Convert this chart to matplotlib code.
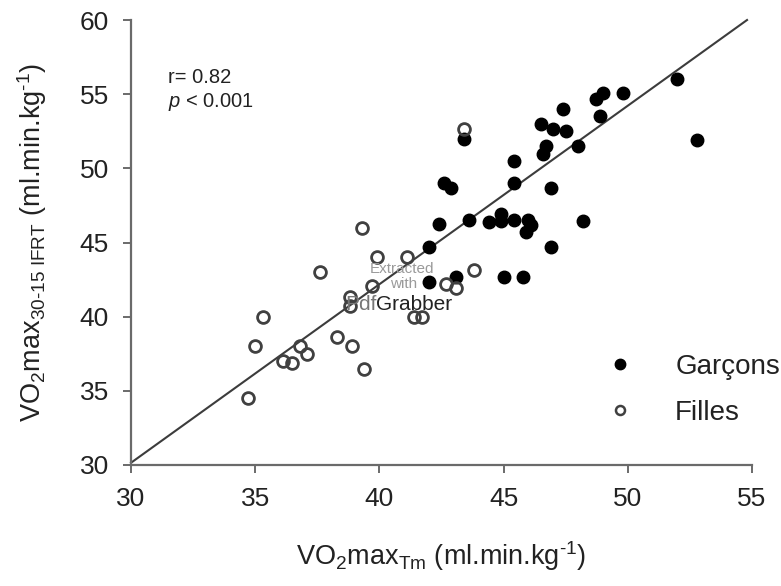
import matplotlib
matplotlib.use("Agg")
import matplotlib.pyplot as plt
from matplotlib.lines import Line2D

plt.rcParams['font.family'] = ['Liberation Sans', 'DejaVu Sans']
plt.rcParams['mathtext.fontset'] = 'custom'
plt.rcParams['mathtext.rm'] = 'Liberation Sans'
plt.rcParams['mathtext.it'] = 'Liberation Sans:italic'
plt.rcParams['mathtext.bf'] = 'Liberation Sans:bold'

# ---- data ----
garcons_x = [52.0, 52.8, 49.8, 49.0, 48.7, 48.9, 47.4, 46.5, 47.0, 47.5,
             46.7, 46.6, 48.0, 45.4, 43.4, 42.6, 42.9, 45.4, 46.9, 42.4,
             43.6, 44.4, 44.9, 44.9, 45.4, 46.0, 46.1, 45.9, 48.2, 42.0,
             46.9, 42.0, 43.1, 45.0, 45.8]
garcons_y = [56.0, 51.9, 55.1, 55.1, 54.65, 53.55, 54.0, 53.0, 52.65, 52.55,
             51.5, 51.0, 51.5, 50.5, 52.0, 49.0, 48.65, 49.0, 48.7, 46.25,
             46.55, 46.4, 46.9, 46.45, 46.5, 46.5, 46.2, 45.7, 46.45, 44.7,
             44.7, 42.35, 42.65, 42.65, 42.65]

filles_x = [43.4, 41.1, 39.9, 39.3, 37.6, 39.7, 43.8, 43.1, 42.7, 38.8,
            38.8, 41.4, 41.7, 35.3, 35.0, 36.1, 36.5, 36.8, 37.1, 38.3,
            38.9, 39.4, 34.7]
filles_y = [52.65, 44.0, 44.0, 45.95, 43.0, 42.05, 43.15, 41.9, 42.2, 41.3,
            40.7, 40.0, 40.0, 40.0, 38.0, 37.0, 36.9, 38.0, 37.5, 38.6,
            38.0, 36.45, 34.55]

reg_slope = 1.2036
reg_intercept = -5.958
reg_x_range = [30.0, 54.8]

x_ticks = [30, 35, 40, 45, 50, 55]
y_ticks = [30, 35, 40, 45, 50, 55, 60]

stats_r = "r= 0.82"
stats_p = "< 0.001"
legend_labels = ["Garçons", "Filles"]

# ---- figure ----
fig = plt.figure(figsize=(7.81, 5.86), dpi=100)
ax = fig.add_axes([131/781, 1 - 465/586, (752 - 131)/781, (465 - 20)/586])

spine_col = '#6a6a6a'
for s in ['top', 'right']:
    ax.spines[s].set_visible(False)
for s in ['left', 'bottom']:
    ax.spines[s].set_color(spine_col)
    ax.spines[s].set_linewidth(1.6)

ax.set_xlim(30, 55)
ax.set_ylim(30, 60)
ax.set_xticks(x_ticks)
ax.set_yticks(y_ticks)
ax.tick_params(direction='out', length=6, width=1.4, color=spine_col,
               labelsize=19, labelcolor='#222222')
ax.tick_params(axis='y', pad=10)
ax.tick_params(axis='x', pad=10)

# regression line
line_y = [reg_intercept + reg_slope * v for v in reg_x_range]
ax.plot(reg_x_range, line_y, color='#3c3c3c', lw=1.5, zorder=1, clip_on=False)

ax.plot(garcons_x, garcons_y, 'o', color='black', ms=9, mec='black', zorder=3,
        clip_on=False)
ax.plot(filles_x, filles_y, 'o', mfc='none', mec='#404040', mew=2.0, ms=8.5,
        zorder=4, clip_on=False)

ax.set_xlabel(r'VO$_{\text{2}}$max$_{\text{Tm}}$ (ml.min.kg$^{\text{-1}}$)',
              fontsize=19.5, color='#222222', labelpad=20)
ax.set_ylabel(r'VO$_{\text{2}}$max$_{\text{30-15 IFRT}}$ (ml.min.kg$^{\text{-1}}$)',
              fontsize=19.5, color='#222222', labelpad=22)

# stats
fig.text(168/781, 1 - 83/586, stats_r, fontsize=14.5, color='#222222')
fig.text(168/781, 1 - 107/586, r'$\mathit{p}$ ' + stats_p, fontsize=14.5,
         color='#222222')

# legend
handles = [Line2D([], [], ls='none', marker='o', color='black', ms=7.5),
           Line2D([], [], ls='none', marker='o', mfc='none', mec='#404040',
                  mew=1.8, ms=6.5)]
leg = ax.legend(handles, legend_labels, loc='center left',
                bbox_to_anchor=(603/781, 1 - 390/586),
                bbox_transform=fig.transFigure, frameon=False, fontsize=20,
                handlelength=1.2, handletextpad=1.4, labelspacing=0.72,
                borderaxespad=0, borderpad=0)
for t in leg.get_texts():
    t.set_color('#222222')

# watermark text present in the picture
fig.text(402/781, 1 - 273/586, "Extracted", fontsize=11, color='#9a9a9a',
         ha='center')
fig.text(404/781, 1 - 288/586, "with", fontsize=11, color='#9a9a9a',
         ha='center')
fig.text(345/781, 1 - 310/586, "Pdf", fontsize=15, color='#777777')
fig.text(376/781, 1 - 310/586, "Grabber", fontsize=15, color='#222222')

fig.savefig('out.png', dpi=100)
